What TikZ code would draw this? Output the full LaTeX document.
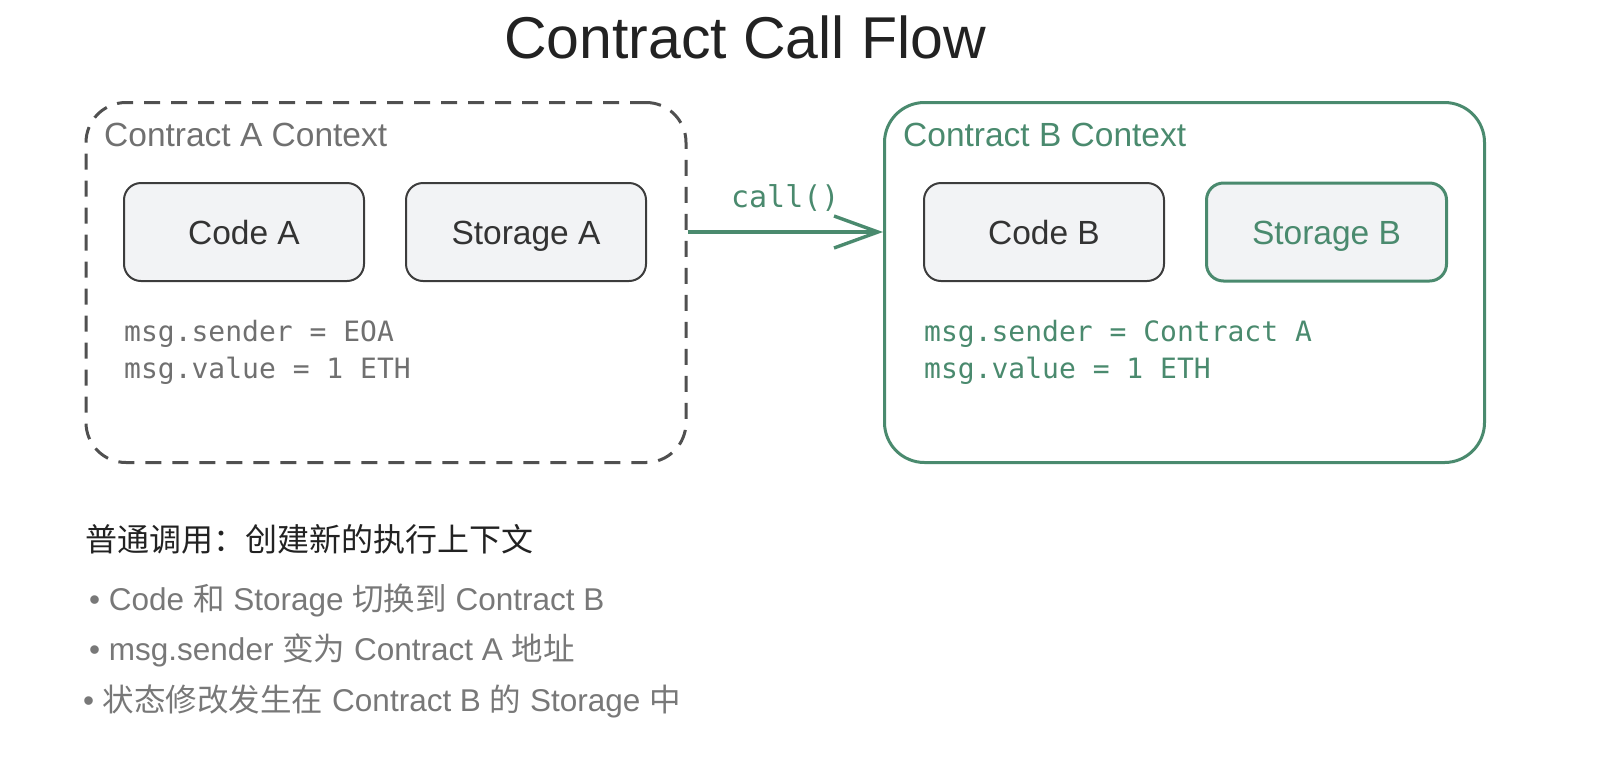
\documentclass[tikz,border=0pt]{standalone}
\usepackage{fontspec}
\setmainfont{Liberation Sans}
\setmonofont{DejaVu Sans Mono}
\newfontfamily\cjk{Noto Sans CJK SC}
\newcommand{\zhtxt}[1]{{\cjk #1}}
\usetikzlibrary{arrows.meta, positioning}
\definecolor{grn}{RGB}{74,138,110}
\definecolor{lblgray}{RGB}{112,112,112}
\definecolor{notegray}{RGB}{120,120,120}
\definecolor{dashgray}{RGB}{80,80,80}
\definecolor{boxline}{RGB}{60,60,60}
\definecolor{boxfill}{RGB}{242,243,245}
\definecolor{boxtext}{RGB}{51,51,51}
\definecolor{titlecol}{RGB}{34,34,34}

\begin{document}
\begin{tikzpicture}[
  x=1pt, y=-1pt,
  every node/.style={inner sep=0pt, font=\fontsize{33.5}{40}\selectfont},
  ctx/.style={rounded corners=40pt, line width=3pt, minimum width=600pt,
              minimum height=360pt, anchor=north west},
  part/.style={draw=boxline, fill=boxfill, rounded corners=17pt, line width=2pt,
               minimum width=240pt, minimum height=98pt, text=boxtext,
               text height=30pt, text depth=6pt},
  msg/.style={anchor=west, align=left, font=\ttfamily\fontsize{28}{37}\selectfont},
  note/.style={anchor=west, text=notegray, font=\fontsize{31.5}{38}\selectfont},
]
\useasboundingbox (0,0) rectangle (1616,756);

\node[text=titlecol, font=\fontsize{59}{70}\selectfont] (title) at (745,37) {Contract Call Flow};

% contract A
\node[ctx, draw=dashgray, dash pattern=on 16pt off 11pt] (ctxa) at (84.5,101) {};
\node[anchor=west, text=lblgray] (lbla) at (104,135) {Contract A Context};
\node[part] (codea) at (244,232) {Code A};
\node[part, right=40pt of codea] (stora) {Storage A};
\node[msg, text=lblgray] (msga) at (124,352) {msg.sender = EOA\\msg.value = 1 ETH};

% contract B
\node[ctx, draw=grn] (ctxb) at (883,101) {};
\node[anchor=west, text=grn] (lblb) at (903,135) {Contract B Context};
\node[part] (codeb) at (1044,232) {Code B};
\node[part, right=40pt of codeb, draw=grn, line width=3pt, text=grn] (storb) {Storage B};
\node[msg, text=grn] (msgb) at (924,352) {msg.sender = Contract A\\msg.value = 1 ETH};

\draw[grn, line width=3.4pt, -{Straight Barb[length=44pt, width=32pt]}]
  (ctxa.east |- codea) -- node[above=19pt, font=\ttfamily\fontsize{30}{36}\selectfont] (calllbl) {call()}
  (ctxb.west |- codea);

% notes
\node[anchor=west, text=titlecol, font=\cjk\fontsize{32}{38}\selectfont] (heading) at (85,539) {普通调用：创建新的执行上下文};
\node[note] (pt1) at (89,600) {• Code \zhtxt{和} Storage \zhtxt{切换到} Contract B};
\node[note] (pt2) at (89,650) {• msg.sender \zhtxt{变为} Contract A \zhtxt{地址}};
\node[note] (pt3) at (83,701) {• \zhtxt{状态修改发生在} Contract B \zhtxt{的} Storage \zhtxt{中}};
\end{tikzpicture}
\end{document}
